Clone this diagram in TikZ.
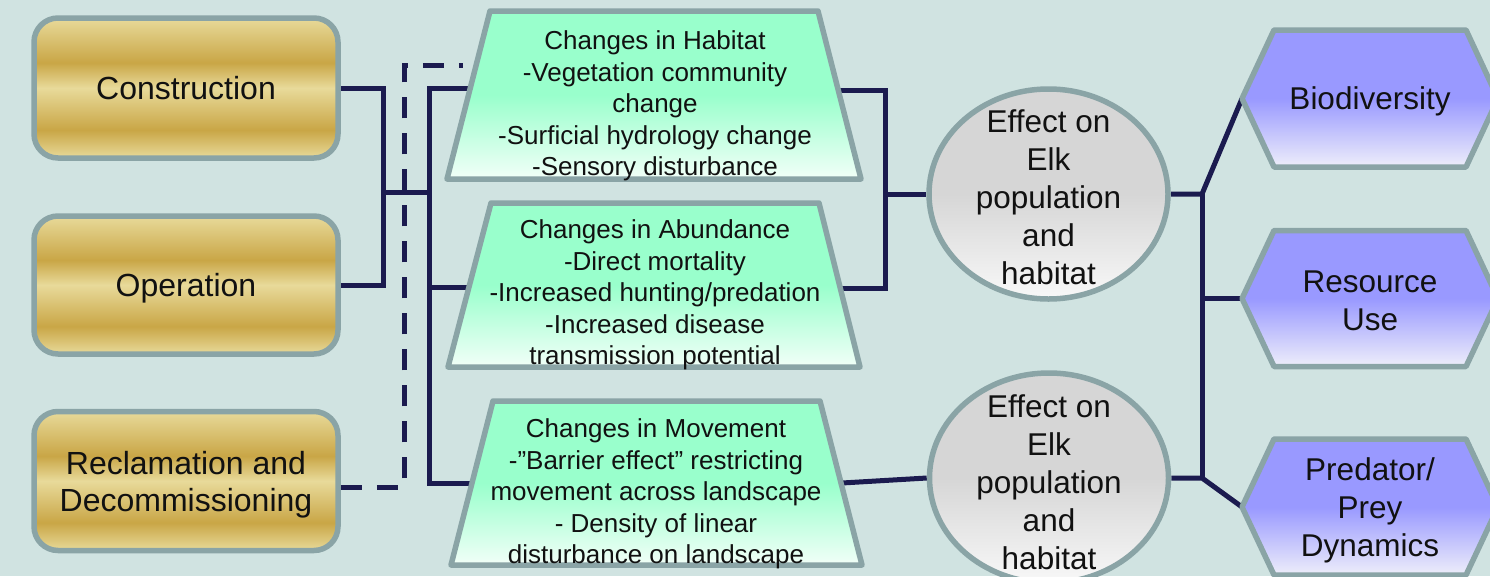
\documentclass[tikz,border=0pt]{standalone}
\usepackage{fontspec}
\setmainfont{Liberation Sans}
\usetikzlibrary{shapes.geometric,backgrounds}
\definecolor{bg}{HTML}{D0E3E1}
\definecolor{bord}{HTML}{8AA4A6}
\definecolor{navy}{HTML}{1B1B4F}
\definecolor{gl}{HTML}{E8DA9A}
\definecolor{gd}{HTML}{C9A646}
\definecolor{gtop}{HTML}{99FFCC}
\definecolor{gbot}{HTML}{F2FFF8}
\definecolor{ctop}{HTML}{D6D6D6}
\definecolor{cbot}{HTML}{F8F8F8}
\definecolor{ptop}{HTML}{9999FF}
\definecolor{pbot}{HTML}{EEEEFA}
\definecolor{txt}{HTML}{111111}
\pgfdeclareverticalshading{goldsh}{100bp}{color(0bp)=(gl); color(25bp)=(gl); color(35bp)=(gd); color(50bp)=(gl); color(59bp)=(gd); color(75bp)=(gl); color(100bp)=(gl)}
\begin{document}
\begin{tikzpicture}[x=1pt,y=-1pt,
  goldbox/.style={draw=bord, line width=5.5pt, rounded corners=24pt, shade, shading=goldsh,
    minimum width=304pt, minimum height=140pt, align=center, text=txt,
    font=\fontsize{32pt}{37pt}\selectfont, inner sep=0pt},
  trap/.style={draw=bord, line width=5.5pt, line join=round,
    top color=gtop, bottom color=gbot, middle color=gtop},
  elkbox/.style={ellipse, draw=bord, line width=5.5pt, top color=ctop, bottom color=cbot,
    middle color=ctop, minimum width=239pt, minimum height=210pt, inner sep=0pt},
  hexa/.style={draw=bord, line width=5.5pt, line join=round, top color=ptop, bottom color=pbot, middle color=ptop},
  ttext/.style={align=center, text=txt, font=\fontsize{26pt}{31.5pt}\selectfont, inner sep=0pt},
  btext/.style={align=center, text=txt, font=\fontsize{31.5pt}{38pt}\selectfont, inner sep=0pt},
  conn/.style={draw=navy, line width=5pt},
  dconn/.style={conn, dash pattern=on 21pt off 15pt}]
\useasboundingbox (0,0) rectangle (1490,576);

% left boxes
\node[goldbox] (con) at (186,88) {Construction};
\node[goldbox, minimum height=138pt, text depth=0pt] (ope) at (186,285) {Operation};
\node[goldbox, minimum height=139pt, text depth=0pt] (rec) at (186,481) {Reclamation and\\Decommissioning};

% trapezoids
\path[trap] (490,11) -- (818,11) -- (861,179) -- (447,179) -- cycle;
\path[trap] (491,203) -- (819,203) -- (860,367) -- (448,367) -- cycle;
\path[trap] (493,401) -- (820,401) -- (862,565) -- (451,565) -- cycle;
\coordinate (hab-w) at (470,88);
\coordinate (hab-e) at (838,90);
\coordinate (abu-w) at (469,287);
\coordinate (abu-e) at (841,288);
\coordinate (mov-w) at (471,483);
\coordinate (mov-e) at (842,483);
\node[ttext] (habt) at (655,106) {Changes in Habitat\\-Vegetation community\\change\\-Surficial hydrology change\\-Sensory disturbance};
\node[ttext] (abut) at (655,295) {Changes in Abundance\\-Direct mortality\\-Increased hunting/predation\\-Increased disease\\transmission potential};
\node[ttext] (movt) at (656,494) {Changes in Movement\\-”Barrier effect” restricting\\movement across landscape\\- Density of linear\\disturbance on landscape};

% ellipses
\node[elkbox] (elk1) at (1048.5,194) {};
\node[elkbox] (elk2) at (1049,478) {};
\node[btext] (elk1t) at (1048.5,197) {Effect on\\Elk\\population\\and\\habitat};
\node[btext] (elk2t) at (1049,482) {Effect on\\Elk\\population\\and\\habitat};

% hexagons
\path[hexa] (1242,98.5) -- (1274,30) -- (1466,30) -- (1498,98.5) -- (1466,167) -- (1274,167) -- cycle;
\path[hexa] (1242,298.5) -- (1274,230.5) -- (1466,230.5) -- (1498,298.5) -- (1466,366.5) -- (1274,366.5) -- cycle;
\path[hexa] (1242,507) -- (1274,439) -- (1466,439) -- (1498,507) -- (1466,575) -- (1274,575) -- cycle;
\coordinate (bio-w) at (1242,98.5);
\coordinate (res-w) at (1242,298.5);
\coordinate (pre-w) at (1242,507);
\node[btext] (bio) at (1370,101) {Biodiversity};
\node[btext] (res) at (1370,301) {Resource\\Use};
\node[btext] (pre) at (1370,510) {Predator/\\Prey\\Dynamics};

% connector junctions
\coordinate (bus1) at (383,192);
\coordinate (bus2) at (429,192);
\coordinate (dbus) at (404,65);
\coordinate (dend) at (463,65);
\coordinate (recout) at ([yshift=-6pt]rec.east);
\coordinate (rbus) at (885,194);
\coordinate (q1) at (1202,194);
\coordinate (q2) at (1202,478);

\begin{pgfonlayer}{background}
\fill[bg] (0,0) rectangle (1490,576);
\draw[conn] (con.east) -| (bus1) |- (ope.east);
\draw[conn] (bus1) -- (bus2);
\draw[conn] (hab-w) -| (bus2) |- (mov-w);
\draw[conn] (bus2 |- abu-w) -- (abu-w);
\draw[dconn] (recout) -| (dbus) -- (dend);
\draw[conn] (hab-e) -| (rbus) |- (abu-e);
\draw[conn] (rbus) -- (elk1.west);
\draw[conn] (mov-e) -- (elk2.west);
\draw[conn] (elk1.east) -- (q1) -- (bio-w);
\draw[conn] (elk2.east) -- (q2) -- (pre-w);
\draw[conn] (q1) -- (q2);
\draw[conn] (q1 |- res-w) -- (res-w);
\end{pgfonlayer}
\end{tikzpicture}
\end{document}
